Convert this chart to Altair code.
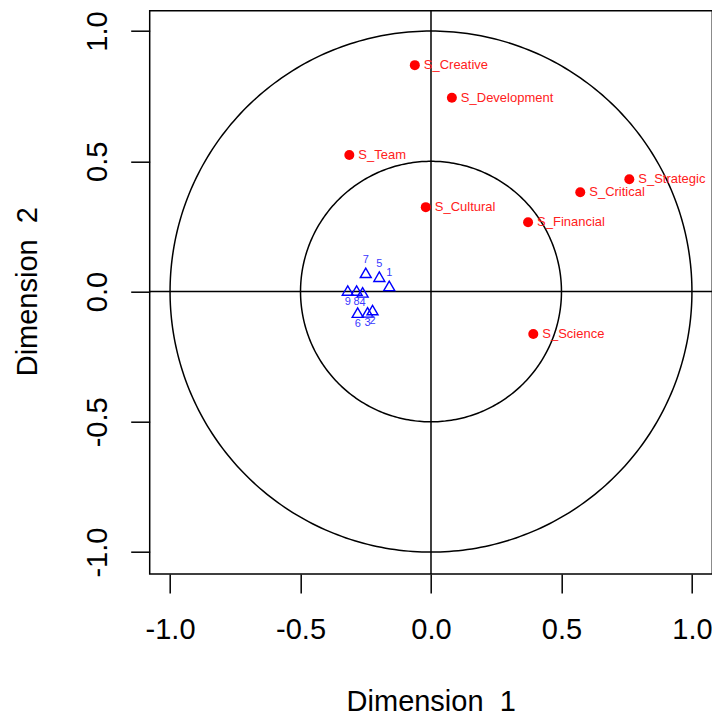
import altair as alt
import pandas as pd
import numpy as np

# Variables (red points)
var_names = ["S_Creative", "S_Development", "S_Team", "S_Cultural",
             "S_Strategic", "S_Critical", "S_Financial", "S_Science"]
var_x = [-0.062, 0.080, -0.313, -0.020, 0.760, 0.572, 0.372, 0.392]
var_y = [0.869, 0.744, 0.524, 0.324, 0.431, 0.381, 0.266, -0.163]

# Observations (blue triangles)
obs_ids = ["1", "2", "3", "4", "5", "6", "7", "8", "9"]
obs_x = [-0.160, -0.224, -0.243, -0.262, -0.198, -0.281, -0.250, -0.285, -0.319]
obs_y = [0.022, -0.071, -0.080, -0.003, 0.057, -0.081, 0.072, 0.004, 0.004]

# Reference circle radii and tick values
radii = [0.5, 1.0]
tick_vals = [-1.0, -0.5, 0.0, 0.5, 1.0]

FONT = "Liberation Sans"

xs = alt.Scale(domain=[-1.078, 1.078], nice=False, zero=False)
ys = alt.Scale(domain=[-1.084, 1.078], nice=False, zero=False)

lab_expr = "datum.value < 0 ? '-' + format(-datum.value, '.1f') : format(datum.value, '.1f')"

x_axis = alt.Axis(values=tick_vals, labelExpr=lab_expr, domain=False, grid=False,
                  tickSize=19, tickWidth=1.5, tickColor="black",
                  labelFont=FONT, labelFontSize=29, labelColor="black",
                  labelBaseline="alphabetic", labelPadding=46,
                  labelFlush=False, labelOverlap=False,
                  title="Dimension\u00a0 1", titleFont=FONT, titleFontSize=29,
                  titleFontWeight="normal", titleColor="black",
                  titleBaseline="alphabetic", titleX=281, titleY=137, titleAlign="center")
y_axis = alt.Axis(values=tick_vals, labelExpr=lab_expr, domain=False, grid=False,
                  tickSize=19, tickWidth=1.5, tickColor="black",
                  labelFont=FONT, labelFontSize=29, labelColor="black",
                  labelAngle=-90, labelAlign="center",
                  labelBaseline="alphabetic", labelPadding=24,
                  labelFlush=False, labelOverlap=False,
                  title="Dimension\u00a0 2", titleFont=FONT, titleFontSize=29,
                  titleFontWeight="normal", titleColor="black", titleAngle=-90,
                  titleBaseline="alphabetic", titleX=-113, titleY=280.5, titleAlign="center")

# circle geometry
theta = np.linspace(0, 2 * np.pi, 361)
circ = pd.concat([
    pd.DataFrame({"x": r * np.cos(theta), "y": r * np.sin(theta),
                  "o": np.arange(len(theta)), "r": r}) for r in radii
])

circles = alt.Chart(circ).mark_line(color="black", strokeWidth=1.5).encode(
    x=alt.X("x:Q", scale=xs, axis=x_axis),
    y=alt.Y("y:Q", scale=ys, axis=y_axis),
    detail="r:N",
    order="o:Q",
)

zero = pd.DataFrame({"v": [0.0]})
vline = alt.Chart(zero).mark_rule(color="black", strokeWidth=1.5).encode(
    x=alt.X("v:Q", scale=xs))
hline = alt.Chart(zero).mark_rule(color="black", strokeWidth=1.5).encode(
    y=alt.Y("v:Q", scale=ys))

vars_df = pd.DataFrame({"name": var_names, "x": var_x, "y": var_y})
obs_df = pd.DataFrame({"id": obs_ids, "x": obs_x, "y": obs_y})

pts = alt.Chart(vars_df).mark_circle(color="red", size=100, opacity=1).encode(
    x=alt.X("x:Q", scale=xs), y=alt.Y("y:Q", scale=ys))
pts_lab = alt.Chart(vars_df).mark_text(
    color="#ff2020", font=FONT, fontSize=13, align="left", baseline="middle", dx=9
).encode(x=alt.X("x:Q", scale=xs), y=alt.Y("y:Q", scale=ys), text="name:N")

tri = alt.Chart(obs_df).mark_point(
    shape="triangle-up", filled=False, color="blue", size=120, strokeWidth=1.4, opacity=1
).encode(x=alt.X("x:Q", scale=xs), y=alt.Y("y:Q", scale=ys))
tri_up = alt.Chart(obs_df).transform_filter("datum.y > 0.015").mark_text(
    color="#3a3aff", font=FONT, fontSize=11, align="center", baseline="middle", dy=-13
).encode(x=alt.X("x:Q", scale=xs), y=alt.Y("y:Q", scale=ys), text="id:N")
tri_dn = alt.Chart(obs_df).transform_filter("datum.y <= 0.015").mark_text(
    color="#3a3aff", font=FONT, fontSize=11, align="center", baseline="middle", dy=11
).encode(x=alt.X("x:Q", scale=xs), y=alt.Y("y:Q", scale=ys), text="id:N")

chart = alt.layer(circles, vline, hline, pts, pts_lab, tri, tri_up, tri_dn).properties(
    width=562.6, height=563.3,
    autosize="none",
    padding={"left": 149.7, "top": 10.7, "right": 0, "bottom": 141},
    background="white",
).configure_view(stroke="black", strokeWidth=1.5)

chart.save("out.html", embed_options={"renderer": "svg", "actions": False})
